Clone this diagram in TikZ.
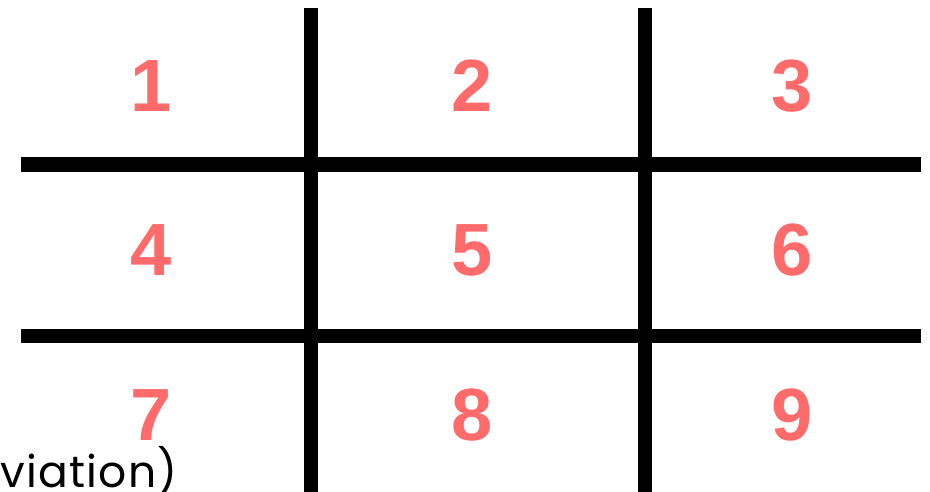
\documentclass[tikz,border=0pt]{standalone}
\usepackage{fontspec}
\setmainfont{Liberation Sans}
\newfontfamily\gothic[LetterSpace=3]{Poppins}
\definecolor{numred}{HTML}{FF6B6B}
\begin{document}
\begin{tikzpicture}[x=1pt,y=-1pt,
  gridline/.style={line width=14.5pt,black},
  num/.style={anchor=base,inner sep=0pt,text=numred,font=\fontsize{74}{74}\selectfont\bfseries}]
\useasboundingbox[fill=white] (0,0) rectangle (930,492);
\draw[gridline] (311,8) -- (311,492);
\draw[gridline] (645,8) -- (645,492);
\draw[gridline] (21,164.5) -- (921,164.5);
\draw[gridline] (21,336) -- (921,336);
\node[num] (n1) at (151,112) {1};
\node[num] (n2) at (472,112) {2};
\node[num] (n3) at (792,112) {3};
\node[num] (n4) at (151,276) {4};
\node[num] (n5) at (472,276) {5};
\node[num] (n6) at (792,276) {6};
\node[num] (n7) at (151,440) {7};
\node[num] (n8) at (472,440) {8};
\node[num] (n9) at (792,440) {9};
\node[anchor=base east,inner sep=0pt,font=\gothic\fontsize{44}{44}\selectfont] (cut) at (178,487) {viation)};
\end{tikzpicture}
\end{document}
